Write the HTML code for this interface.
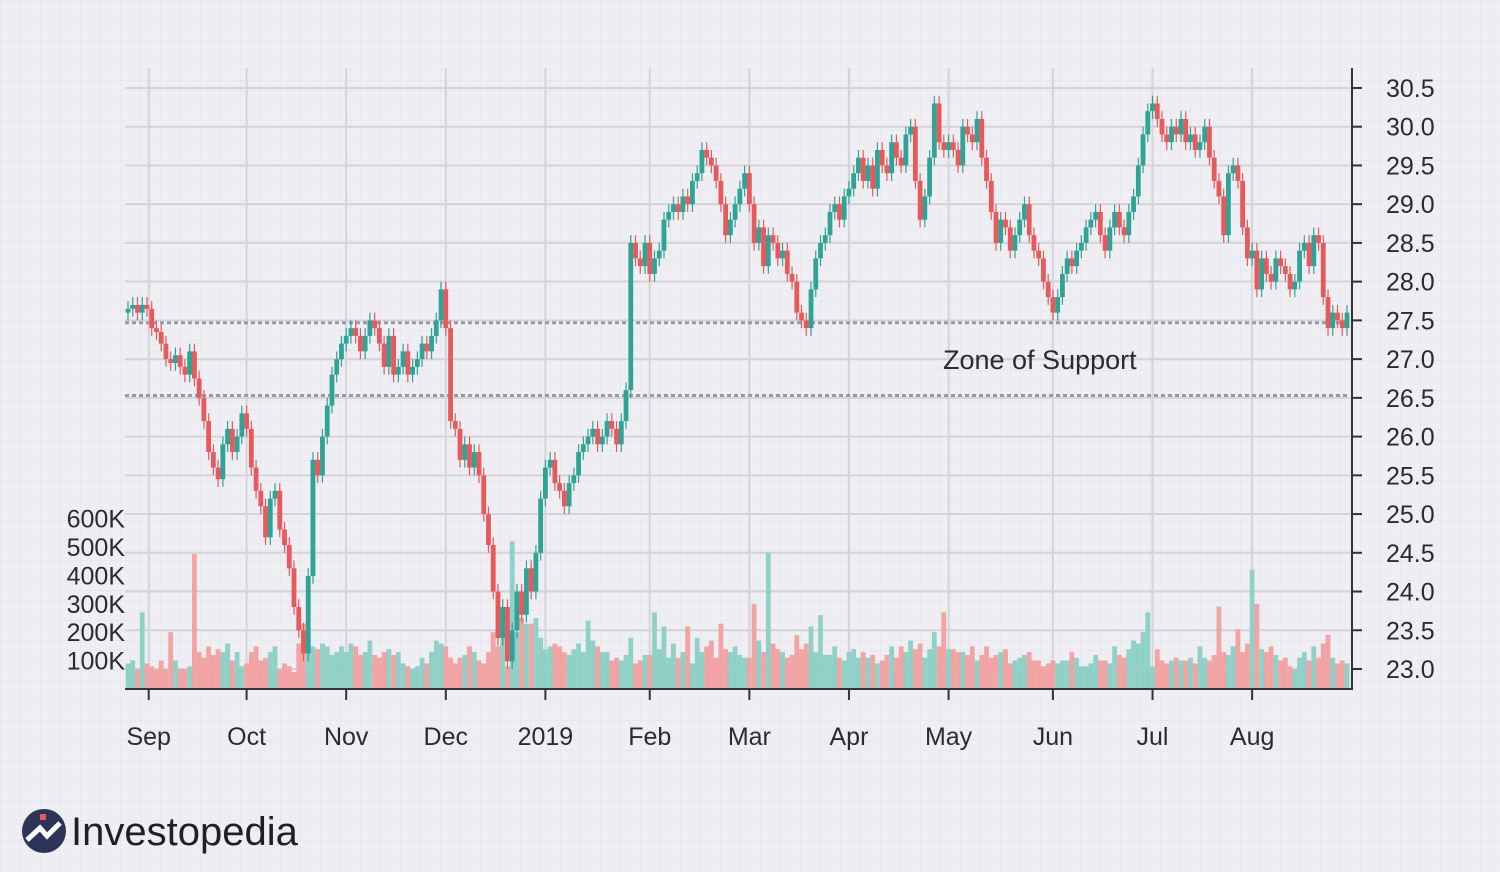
<!DOCTYPE html>
<html><head><meta charset="utf-8">
<style>
html,body{margin:0;padding:0;}
body{width:1500px;height:872px;overflow:hidden;background:#efeff3;font-family:"Liberation Sans",sans-serif;}
svg{display:block;}
</style></head>
<body>
<svg id="chart" width="1500" height="872" viewBox="0 0 1500 872" xmlns="http://www.w3.org/2000/svg">
<defs>
<pattern id="fine" width="10" height="10" patternUnits="userSpaceOnUse">
<path d="M10 0 L0 0 0 10" fill="none" stroke="#e1e1e8" stroke-width="1"/>
</pattern>
</defs>
<rect width="1500" height="872" fill="#efeff3"/>
<rect width="1500" height="872" fill="url(#fine)"/>
<g id="grid"></g>
<g id="vol"></g>
<g id="candles"></g>
<g id="axes"></g>
<g>
<circle cx="44" cy="831" r="22" fill="#2c3557"/>
<path d="M27 840 L40 828 L47 836 L60 823" stroke="#fff" stroke-width="5" fill="none"/>
<rect x="40" y="814" width="6" height="6" fill="#e8595c"/>
<text x="71" y="845" font-size="40" fill="#1f1f24">Investopedia</text>
</g>
</svg>
<script>
const closes = [27.65,27.7,27.6,27.7,27.65,
27.4,27.35,27.2,27.0,26.95,27.05,26.9,26.8,27.1,26.75,26.5,26.2,25.8,25.6,25.45,25.9,26.1,25.8,26.0,26.3,
26.1,25.6,25.3,25.1,24.7,25.2,25.3,24.8,24.6,24.3,23.8,23.5,23.2,24.2,25.7,25.5,26.0,26.4,26.8,27.0,27.2,
27.3,27.4,27.3,27.1,27.3,27.5,27.4,27.2,26.9,27.3,26.8,26.9,27.1,26.8,26.9,27.0,27.2,27.1,27.3,27.5,27.9,
27.4,26.2,26.1,25.7,25.9,25.6,25.8,25.5,25.0,24.6,24.0,23.4,23.8,23.1,23.5,24.0,23.7,24.3,24.0,24.5,25.2,
25.6,25.7,25.4,25.3,25.1,25.4,25.5,25.8,25.9,26.0,26.1,25.9,26.0,26.2,26.1,25.9,26.2,26.6,28.5,28.3,28.2,28.5,
28.1,28.3,28.4,28.8,28.9,29.0,28.9,29.1,29.0,29.3,29.4,29.7,29.6,29.5,29.3,29.0,28.6,28.8,29.0,29.2,29.4,
29.0,28.5,28.7,28.2,28.6,28.5,28.3,28.4,28.1,28.0,27.6,27.5,27.4,27.9,28.3,28.5,28.6,28.9,29.0,28.8,29.1,
29.2,29.4,29.6,29.3,29.5,29.2,29.7,29.5,29.4,29.8,29.6,29.5,29.9,30.0,29.3,28.8,29.1,29.6,30.3,29.8,29.7,
29.8,29.7,29.5,30.0,29.9,29.8,30.1,29.6,29.3,28.9,28.5,28.8,28.7,28.4,28.6,28.8,29.0,28.6,28.4,28.3,28.0,27.8,
27.6,27.8,28.1,28.3,28.2,28.4,28.5,28.7,28.8,28.9,28.6,28.4,28.7,28.9,28.7,28.6,28.9,29.1,29.5,29.9,30.2,
30.3,30.1,29.9,29.8,30.0,29.9,30.1,29.8,29.9,29.7,29.8,30.0,29.6,29.3,29.1,28.6,29.4,29.5,29.3,28.7,28.3,
28.4,27.9,28.3,28.1,28.0,28.3,28.2,28.1,27.9,28.0,28.4,28.5,28.2,28.6,28.5,27.8,27.4,27.6,27.5,27.4,27.6];
const firstOpen = 27.6;
const volumesK = [90,100,70,270,90,
80,70,100,70,200,100,70,70,80,475,130,110,150,120,140,130,160,100,130,80,
90,130,150,100,110,130,150,70,90,80,60,160,230,170,150,140,160,150,120,130,150,
130,160,150,120,130,170,120,110,130,140,120,130,90,80,70,80,110,90,130,170,160,
150,110,90,110,120,150,130,100,90,130,200,150,210,80,520,200,250,230,230,250,180,
140,150,160,150,130,120,140,160,130,240,170,150,130,130,100,110,100,120,180,90,100,120,
120,270,140,220,110,160,110,130,220,90,180,130,150,170,110,230,140,130,150,120,110,
110,300,170,130,480,160,140,130,110,120,190,140,160,220,130,260,120,120,150,110,100,
130,140,110,130,110,120,90,100,120,150,110,150,130,170,140,160,110,140,200,150,270,
140,140,130,130,120,150,100,120,150,110,120,130,140,90,100,110,120,130,100,100,80,90,
100,90,100,100,130,110,80,80,90,120,100,100,90,150,120,110,140,170,160,200,270,
80,140,100,90,100,110,100,100,110,90,150,110,100,120,290,130,120,150,210,130,160,
420,300,140,130,150,120,100,110,80,70,110,130,100,150,110,160,190,110,90,100,90];
const priceTicks = [23.0,23.5,24.0,24.5,25.0,25.5,26.0,26.5,27.0,27.5,28.0,28.5,29.0,29.5,30.0,30.5];
const volTicks = [100,200,300,400,500,600];
const monthLabels = ["Sep","Oct","Nov","Dec","2019","Feb","Mar","Apr","May","Jun","Jul","Aug"];
const monthStartIdx = [5,25,46,67,88,110,131,152,173,195,216,237];
const supportLevels = [27.47,26.53];

const NS="http://www.w3.org/2000/svg";
function mk(tag,attrs,parent){const e=document.createElementNS(NS,tag);for(const k in attrs)e.setAttribute(k,attrs[k]);parent.appendChild(e);return e;}
const X0=128,X1=1347,AXB=689;
const step=(X1-X0)/(closes.length-1);
const xOf=i=>X0+i*step;
const yP=p=>669-(p-23)*77.47;
const yV=v=>AXB-v*0.284;
const grid=document.getElementById('grid'),vol=document.getElementById('vol'),cg=document.getElementById('candles'),ax=document.getElementById('axes');

priceTicks.forEach(p=>{
  const l=mk('line',{x1:125,x2:1350,y1:yP(p),y2:yP(p),stroke:'#d3d3da','stroke-width':2},grid);
  
  
  const t=mk('text',{x:1386,y:yP(p)+9,'font-size':25,fill:'#2a2a30'},ax);
  t.textContent=p.toFixed(1);
  
  
  const tk=mk('line',{x1:1352,x2:1362,y1:yP(p),y2:yP(p),stroke:'#333','stroke-width':2},ax);
  
  
});
monthStartIdx.forEach((idx,k)=>{
  const x=xOf(idx)-(k===0?3:0);
  const l=mk('line',{x1:x,x2:x,y1:68,y2:AXB,stroke:'#d3d3da','stroke-width':2},grid);
  
  
  const tk=mk('line',{x1:x,x2:x,y1:AXB,y2:AXB+11,stroke:'#333','stroke-width':2},ax);
  
  
  const t=mk('text',{x:x,y:745,'font-size':25,fill:'#2a2a30','text-anchor':'middle'},ax);
  t.textContent=monthLabels[k];
  
  
});
volTicks.forEach(v=>{
  const t=mk('text',{x:125,y:yV(v)+9,'font-size':25,fill:'#2a2a30','text-anchor':'end'},ax);
  t.textContent=v+'K';
  
  
});
supportLevels.forEach(p=>{
  const l=mk('line',{x1:125,x2:1350,y1:yP(p),y2:yP(p),stroke:'#9a9aa2','stroke-width':3,'stroke-dasharray':'4 3'},grid);
  
  
});
const zt=mk('text',{x:943,y:369,'font-size':27,fill:'#2a2a30'},ax);
zt.textContent='Zone of Support';



closes.forEach((c,i)=>{
  const o=i===0?firstOpen:closes[i-1];
  const up=c>=o;
  const x=xOf(i);
  const v=volumesK[i]||0;
  const b=mk('rect',{x:x-2.4,y:yV(v),width:4.8,height:AXB-yV(v),fill:up?'#8fd1c7':'#f2a3a4'},vol);
  
  
  const col=up?'#2fa396':'#e8595c';
  const hi=Math.max(o,c)+0.1,lo=Math.min(o,c)-0.1;
  const w=mk('line',{x1:x,x2:x,y1:yP(hi),y2:yP(lo),stroke:col,'stroke-width':1.2},cg);
  
  
  const top=yP(Math.max(o,c)),bot=yP(Math.min(o,c));
  const r=mk('rect',{x:x-2.4,y:top,width:4.8,height:Math.max(2,bot-top),fill:col},cg);
  
  
});
const ya=mk('line',{x1:1352,x2:1352,y1:68,y2:AXB+1,stroke:'#333','stroke-width':2},ax);


const xa=mk('line',{x1:125,x2:1353,y1:AXB,y2:AXB,stroke:'#333','stroke-width':2},ax);


</script>
</body></html>
